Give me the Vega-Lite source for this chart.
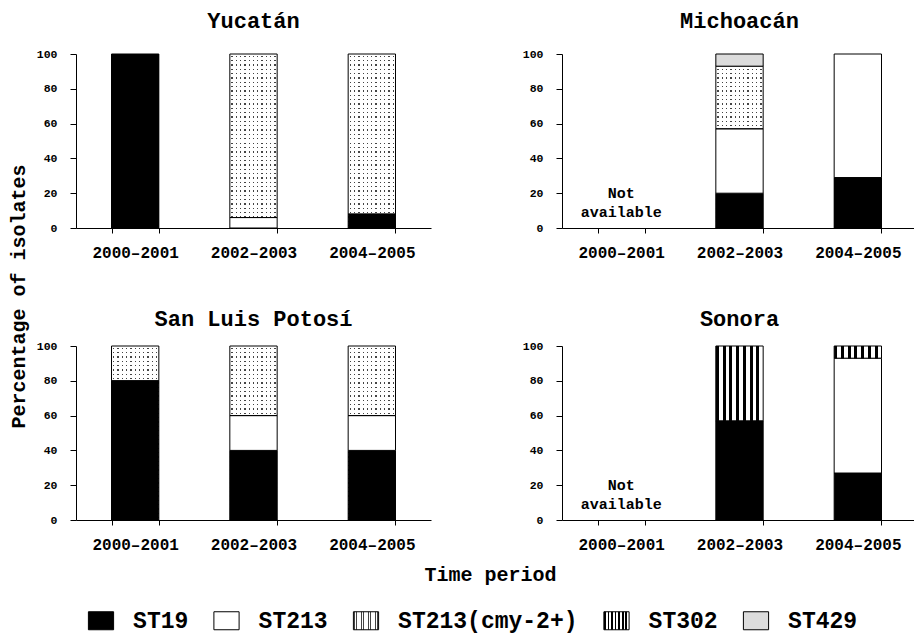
{
  "$schema": "https://vega.github.io/schema/vega-lite/v6.json",
  "background": "white",
  "padding": {"left": 8, "top": 10, "right": 5, "bottom": 5},
  "params": [
    {"name": "stip", "expr": "{gradient:'linear',x1:0,y1:0,x2:1,y2:0,stops:[{offset:0.0318,color:'#fff'},{offset:0.0318,color:'#444'},{offset:0.0591,color:'#444'},{offset:0.0591,color:'#fff'},{offset:0.1227,color:'#fff'},{offset:0.1227,color:'#444'},{offset:0.15,color:'#444'},{offset:0.15,color:'#fff'},{offset:0.2136,color:'#fff'},{offset:0.2136,color:'#444'},{offset:0.2409,color:'#444'},{offset:0.2409,color:'#fff'},{offset:0.3045,color:'#fff'},{offset:0.3045,color:'#444'},{offset:0.3318,color:'#444'},{offset:0.3318,color:'#fff'},{offset:0.3955,color:'#fff'},{offset:0.3955,color:'#444'},{offset:0.4227,color:'#444'},{offset:0.4227,color:'#fff'},{offset:0.4864,color:'#fff'},{offset:0.4864,color:'#444'},{offset:0.5136,color:'#444'},{offset:0.5136,color:'#fff'},{offset:0.5773,color:'#fff'},{offset:0.5773,color:'#444'},{offset:0.6045,color:'#444'},{offset:0.6045,color:'#fff'},{offset:0.6682,color:'#fff'},{offset:0.6682,color:'#444'},{offset:0.6955,color:'#444'},{offset:0.6955,color:'#fff'},{offset:0.7591,color:'#fff'},{offset:0.7591,color:'#444'},{offset:0.7864,color:'#444'},{offset:0.7864,color:'#fff'},{offset:0.85,color:'#fff'},{offset:0.85,color:'#444'},{offset:0.8773,color:'#444'},{offset:0.8773,color:'#fff'},{offset:0.9409,color:'#fff'},{offset:0.9409,color:'#444'},{offset:0.9682,color:'#444'},{offset:0.9682,color:'#fff'}]}"},
    {"name": "stipL", "expr": "{gradient:'linear',x1:0,y1:0,x2:1,y2:0,stops:[{offset:0.05,color:'#fff'},{offset:0.05,color:'#aaa'},{offset:0.0929,color:'#aaa'},{offset:0.0929,color:'#fff'},{offset:0.1929,color:'#fff'},{offset:0.1929,color:'#aaa'},{offset:0.2357,color:'#aaa'},{offset:0.2357,color:'#fff'},{offset:0.3357,color:'#fff'},{offset:0.3357,color:'#aaa'},{offset:0.3786,color:'#aaa'},{offset:0.3786,color:'#fff'},{offset:0.4786,color:'#fff'},{offset:0.4786,color:'#aaa'},{offset:0.5214,color:'#aaa'},{offset:0.5214,color:'#fff'},{offset:0.6214,color:'#fff'},{offset:0.6214,color:'#aaa'},{offset:0.6643,color:'#aaa'},{offset:0.6643,color:'#fff'},{offset:0.7643,color:'#fff'},{offset:0.7643,color:'#aaa'},{offset:0.8071,color:'#aaa'},{offset:0.8071,color:'#fff'},{offset:0.9071,color:'#fff'},{offset:0.9071,color:'#aaa'},{offset:0.95,color:'#aaa'},{offset:0.95,color:'#fff'}]}"},
    {"name": "stripes", "expr": "{gradient:'linear',x1:0,y1:0,x2:1,y2:0,stops:[{offset:0,color:'#000'},{offset:0.0643,color:'#000'},{offset:0.0643,color:'#fff'},{offset:0.1429,color:'#fff'},{offset:0.1429,color:'#000'},{offset:0.2071,color:'#000'},{offset:0.2071,color:'#fff'},{offset:0.2857,color:'#fff'},{offset:0.2857,color:'#000'},{offset:0.35,color:'#000'},{offset:0.35,color:'#fff'},{offset:0.4286,color:'#fff'},{offset:0.4286,color:'#000'},{offset:0.4929,color:'#000'},{offset:0.4929,color:'#fff'},{offset:0.5714,color:'#fff'},{offset:0.5714,color:'#000'},{offset:0.6357,color:'#000'},{offset:0.6357,color:'#fff'},{offset:0.7143,color:'#fff'},{offset:0.7143,color:'#000'},{offset:0.7786,color:'#000'},{offset:0.7786,color:'#fff'},{offset:0.8571,color:'#fff'},{offset:0.8571,color:'#000'},{offset:0.9214,color:'#000'},{offset:0.9214,color:'#fff'},{offset:1,color:'#fff'}]}"},
    {"name": "hstr", "expr": "{gradient:'linear',x1:1,y1:0,x2:1,y2:1,stops:[{offset:0.00875,color:'#fff'},{offset:0.00875,color:'rgba(255,255,255,0)'},{offset:0.01625,color:'rgba(255,255,255,0)'},{offset:0.01625,color:'#fff'},{offset:0.03375,color:'#fff'},{offset:0.03375,color:'rgba(255,255,255,0)'},{offset:0.04125,color:'rgba(255,255,255,0)'},{offset:0.04125,color:'#fff'},{offset:0.05875,color:'#fff'},{offset:0.05875,color:'rgba(255,255,255,0)'},{offset:0.06625,color:'rgba(255,255,255,0)'},{offset:0.06625,color:'#fff'},{offset:0.08375,color:'#fff'},{offset:0.08375,color:'rgba(255,255,255,0)'},{offset:0.09125,color:'rgba(255,255,255,0)'},{offset:0.09125,color:'#fff'},{offset:0.10875,color:'#fff'},{offset:0.10875,color:'rgba(255,255,255,0)'},{offset:0.11625,color:'rgba(255,255,255,0)'},{offset:0.11625,color:'#fff'},{offset:0.13375,color:'#fff'},{offset:0.13375,color:'rgba(255,255,255,0)'},{offset:0.14125,color:'rgba(255,255,255,0)'},{offset:0.14125,color:'#fff'},{offset:0.15875,color:'#fff'},{offset:0.15875,color:'rgba(255,255,255,0)'},{offset:0.16625,color:'rgba(255,255,255,0)'},{offset:0.16625,color:'#fff'},{offset:0.18375,color:'#fff'},{offset:0.18375,color:'rgba(255,255,255,0)'},{offset:0.19125,color:'rgba(255,255,255,0)'},{offset:0.19125,color:'#fff'},{offset:0.20875,color:'#fff'},{offset:0.20875,color:'rgba(255,255,255,0)'},{offset:0.21625,color:'rgba(255,255,255,0)'},{offset:0.21625,color:'#fff'},{offset:0.23375,color:'#fff'},{offset:0.23375,color:'rgba(255,255,255,0)'},{offset:0.24125,color:'rgba(255,255,255,0)'},{offset:0.24125,color:'#fff'},{offset:0.25875,color:'#fff'},{offset:0.25875,color:'rgba(255,255,255,0)'},{offset:0.26625,color:'rgba(255,255,255,0)'},{offset:0.26625,color:'#fff'},{offset:0.28375,color:'#fff'},{offset:0.28375,color:'rgba(255,255,255,0)'},{offset:0.29125,color:'rgba(255,255,255,0)'},{offset:0.29125,color:'#fff'},{offset:0.30875,color:'#fff'},{offset:0.30875,color:'rgba(255,255,255,0)'},{offset:0.31625,color:'rgba(255,255,255,0)'},{offset:0.31625,color:'#fff'},{offset:0.33375,color:'#fff'},{offset:0.33375,color:'rgba(255,255,255,0)'},{offset:0.34125,color:'rgba(255,255,255,0)'},{offset:0.34125,color:'#fff'},{offset:0.35875,color:'#fff'},{offset:0.35875,color:'rgba(255,255,255,0)'},{offset:0.36625,color:'rgba(255,255,255,0)'},{offset:0.36625,color:'#fff'},{offset:0.38375,color:'#fff'},{offset:0.38375,color:'rgba(255,255,255,0)'},{offset:0.39125,color:'rgba(255,255,255,0)'},{offset:0.39125,color:'#fff'},{offset:0.40875,color:'#fff'},{offset:0.40875,color:'rgba(255,255,255,0)'},{offset:0.41625,color:'rgba(255,255,255,0)'},{offset:0.41625,color:'#fff'},{offset:0.43375,color:'#fff'},{offset:0.43375,color:'rgba(255,255,255,0)'},{offset:0.44125,color:'rgba(255,255,255,0)'},{offset:0.44125,color:'#fff'},{offset:0.45875,color:'#fff'},{offset:0.45875,color:'rgba(255,255,255,0)'},{offset:0.46625,color:'rgba(255,255,255,0)'},{offset:0.46625,color:'#fff'},{offset:0.48375,color:'#fff'},{offset:0.48375,color:'rgba(255,255,255,0)'},{offset:0.49125,color:'rgba(255,255,255,0)'},{offset:0.49125,color:'#fff'},{offset:0.50875,color:'#fff'},{offset:0.50875,color:'rgba(255,255,255,0)'},{offset:0.51625,color:'rgba(255,255,255,0)'},{offset:0.51625,color:'#fff'},{offset:0.53375,color:'#fff'},{offset:0.53375,color:'rgba(255,255,255,0)'},{offset:0.54125,color:'rgba(255,255,255,0)'},{offset:0.54125,color:'#fff'},{offset:0.55875,color:'#fff'},{offset:0.55875,color:'rgba(255,255,255,0)'},{offset:0.56625,color:'rgba(255,255,255,0)'},{offset:0.56625,color:'#fff'},{offset:0.58375,color:'#fff'},{offset:0.58375,color:'rgba(255,255,255,0)'},{offset:0.59125,color:'rgba(255,255,255,0)'},{offset:0.59125,color:'#fff'},{offset:0.60875,color:'#fff'},{offset:0.60875,color:'rgba(255,255,255,0)'},{offset:0.61625,color:'rgba(255,255,255,0)'},{offset:0.61625,color:'#fff'},{offset:0.63375,color:'#fff'},{offset:0.63375,color:'rgba(255,255,255,0)'},{offset:0.64125,color:'rgba(255,255,255,0)'},{offset:0.64125,color:'#fff'},{offset:0.65875,color:'#fff'},{offset:0.65875,color:'rgba(255,255,255,0)'},{offset:0.66625,color:'rgba(255,255,255,0)'},{offset:0.66625,color:'#fff'},{offset:0.68375,color:'#fff'},{offset:0.68375,color:'rgba(255,255,255,0)'},{offset:0.69125,color:'rgba(255,255,255,0)'},{offset:0.69125,color:'#fff'},{offset:0.70875,color:'#fff'},{offset:0.70875,color:'rgba(255,255,255,0)'},{offset:0.71625,color:'rgba(255,255,255,0)'},{offset:0.71625,color:'#fff'},{offset:0.73375,color:'#fff'},{offset:0.73375,color:'rgba(255,255,255,0)'},{offset:0.74125,color:'rgba(255,255,255,0)'},{offset:0.74125,color:'#fff'},{offset:0.75875,color:'#fff'},{offset:0.75875,color:'rgba(255,255,255,0)'},{offset:0.76625,color:'rgba(255,255,255,0)'},{offset:0.76625,color:'#fff'},{offset:0.78375,color:'#fff'},{offset:0.78375,color:'rgba(255,255,255,0)'},{offset:0.79125,color:'rgba(255,255,255,0)'},{offset:0.79125,color:'#fff'},{offset:0.80875,color:'#fff'},{offset:0.80875,color:'rgba(255,255,255,0)'},{offset:0.81625,color:'rgba(255,255,255,0)'},{offset:0.81625,color:'#fff'},{offset:0.83375,color:'#fff'},{offset:0.83375,color:'rgba(255,255,255,0)'},{offset:0.84125,color:'rgba(255,255,255,0)'},{offset:0.84125,color:'#fff'},{offset:0.85875,color:'#fff'},{offset:0.85875,color:'rgba(255,255,255,0)'},{offset:0.86625,color:'rgba(255,255,255,0)'},{offset:0.86625,color:'#fff'},{offset:0.88375,color:'#fff'},{offset:0.88375,color:'rgba(255,255,255,0)'},{offset:0.89125,color:'rgba(255,255,255,0)'},{offset:0.89125,color:'#fff'},{offset:0.90875,color:'#fff'},{offset:0.90875,color:'rgba(255,255,255,0)'},{offset:0.91625,color:'rgba(255,255,255,0)'},{offset:0.91625,color:'#fff'},{offset:0.93375,color:'#fff'},{offset:0.93375,color:'rgba(255,255,255,0)'},{offset:0.94125,color:'rgba(255,255,255,0)'},{offset:0.94125,color:'#fff'},{offset:0.95875,color:'#fff'},{offset:0.95875,color:'rgba(255,255,255,0)'},{offset:0.96625,color:'rgba(255,255,255,0)'},{offset:0.96625,color:'#fff'},{offset:0.98375,color:'#fff'},{offset:0.98375,color:'rgba(255,255,255,0)'},{offset:0.99125,color:'rgba(255,255,255,0)'},{offset:0.99125,color:'#fff'}]}"}
  ],
  "datasets": {
    "shares": [
      {"state": "Yucatán", "period": "2000–2001", "type": "ST19", "v": 100},
      {"state": "Yucatán", "period": "2002–2003", "type": "ST213", "v": 6},
      {"state": "Yucatán", "period": "2002–2003", "type": "ST213(cmy-2+)", "v": 94},
      {"state": "Yucatán", "period": "2004–2005", "type": "ST19", "v": 8},
      {"state": "Yucatán", "period": "2004–2005", "type": "ST213(cmy-2+)", "v": 92},
      {"state": "Michoacán", "period": "2002–2003", "type": "ST19", "v": 20},
      {"state": "Michoacán", "period": "2002–2003", "type": "ST213", "v": 37},
      {"state": "Michoacán", "period": "2002–2003", "type": "ST213(cmy-2+)", "v": 36},
      {"state": "Michoacán", "period": "2002–2003", "type": "ST429", "v": 7},
      {"state": "Michoacán", "period": "2004–2005", "type": "ST19", "v": 29},
      {"state": "Michoacán", "period": "2004–2005", "type": "ST213", "v": 71},
      {"state": "San Luis Potosí", "period": "2000–2001", "type": "ST19", "v": 80},
      {"state": "San Luis Potosí", "period": "2000–2001", "type": "ST213(cmy-2+)", "v": 20},
      {"state": "San Luis Potosí", "period": "2002–2003", "type": "ST19", "v": 40},
      {"state": "San Luis Potosí", "period": "2002–2003", "type": "ST213", "v": 20},
      {"state": "San Luis Potosí", "period": "2002–2003", "type": "ST213(cmy-2+)", "v": 40},
      {"state": "San Luis Potosí", "period": "2004–2005", "type": "ST19", "v": 40},
      {"state": "San Luis Potosí", "period": "2004–2005", "type": "ST213", "v": 20},
      {"state": "San Luis Potosí", "period": "2004–2005", "type": "ST213(cmy-2+)", "v": 40},
      {"state": "Sonora", "period": "2002–2003", "type": "ST19", "v": 57},
      {"state": "Sonora", "period": "2002–2003", "type": "ST302", "v": 43},
      {"state": "Sonora", "period": "2004–2005", "type": "ST19", "v": 27},
      {"state": "Sonora", "period": "2004–2005", "type": "ST213", "v": 66},
      {"state": "Sonora", "period": "2004–2005", "type": "ST302", "v": 7}
    ],
    "notes": [
      {"state": "Michoacán", "period": "2000–2001", "note": "Not available"},
      {"state": "Sonora", "period": "2000–2001", "note": "Not available"}
    ]
  },
  "columns": 2,
  "spacing": {"row": 118, "column": 131},
  "bounds": "flush",
  "concat": [
    {
      "title": {"text": "Yucatán", "offset": 15},
      "width": 355, "height": 174,
      "encoding": {
        "x": {"field": "period", "type": "nominal", "scale": {"domain": ["2000–2001", "2002–2003", "2004–2005"], "paddingInner": 0.6, "paddingOuter": 0.3}, "axis": {"title": null, "tickBand": "extent", "labelAngle": 0}}
      },
      "layer": [
        {"data": {"name": "shares"}, "transform": [{"filter": "datum.state === 'Yucatán'"}],
         "mark": {"type": "bar"},
         "encoding": {
           "y": {"field": "v", "type": "quantitative", "stack": "zero", "scale": {"domain": [0, 100], "nice": false}, "title": "Percentage of isolates", "axis": {"values": [0, 20, 40, 60, 80, 100], "titleX": -51.5, "titleY": 242, "titleBaseline": "alphabetic", "titleAngle": 270, "titleAlign": "center"}},
           "order": {"field": "type", "type": "ordinal"},
           "fill": {"field": "type", "type": "nominal", "title": null, "scale": {"domain": ["ST19", "ST213", "ST213(cmy-2+)", "ST302", "ST429"], "range": ["#000000", "#ffffff", {"expr": "stip"}, {"expr": "stripes"}, "#dcdcdc"]}, "legend": {"orient": "none", "legendX": 13.5, "legendY": 555, "direction": "horizontal", "columns": 5, "labelFont": "Liberation Mono", "labelFontWeight": "bold", "labelFontSize": 23, "encode": {"symbols": {"update": {"fill": [{"test": "datum.value === 'ST213(cmy-2+)'", "signal": "stipL"}, {"scale": "fill", "field": "value"}], "stroke": {"value": "#000"}, "strokeWidth": {"value": 1}, "opacity": {"value": 1}}}}}}
         }},
        {"data": {"name": "shares"}, "transform": [{"filter": "datum.state === 'Yucatán' && datum.type === 'ST213(cmy-2+)'"}],
         "mark": {"type": "bar", "fill": {"expr": "hstr"}},
         "encoding": {
           "y": {"datum": 0, "type": "quantitative", "title": "Percentage of isolates", "axis": {"values": [0, 20, 40, 60, 80, 100], "titleX": -51.5, "titleY": 242, "titleBaseline": "alphabetic", "titleAngle": 270, "titleAlign": "center"}},
           "y2": {"datum": 100}
         }},
        {"data": {"name": "shares"}, "transform": [{"filter": "datum.state === 'Yucatán'"}],
         "mark": {"type": "bar", "stroke": "#000", "strokeWidth": 1},
         "encoding": {
           "y": {"field": "v", "type": "quantitative", "stack": "zero", "scale": {"domain": [0, 100], "nice": false}, "title": "Percentage of isolates", "axis": {"values": [0, 20, 40, 60, 80, 100], "titleX": -51.5, "titleY": 242, "titleBaseline": "alphabetic", "titleAngle": 270, "titleAlign": "center"}},
           "order": {"field": "type", "type": "ordinal"},
           "fill": {"field": "type", "type": "nominal", "title": null, "scale": {"domain": ["ST19", "ST213", "ST213(cmy-2+)", "ST302", "ST429"], "range": ["#000000", "#ffffff", {"expr": "stip"}, {"expr": "stripes"}, "#dcdcdc"]}, "legend": {"orient": "none", "legendX": 13.5, "legendY": 555, "direction": "horizontal", "columns": 5, "labelFont": "Liberation Mono", "labelFontWeight": "bold", "labelFontSize": 23, "encode": {"symbols": {"update": {"fill": [{"test": "datum.value === 'ST213(cmy-2+)'", "signal": "stipL"}, {"scale": "fill", "field": "value"}], "stroke": {"value": "#000"}, "strokeWidth": {"value": 1}, "opacity": {"value": 1}}}}}},
           "fillOpacity": {"condition": {"test": "datum.type === 'ST213(cmy-2+)'", "value": 0}, "value": 1}
         }}
      ]
    },
    {
      "title": {"text": "Michoacán", "offset": 15},
      "width": 355, "height": 174,
      "encoding": {
        "x": {"field": "period", "type": "nominal", "scale": {"domain": ["2000–2001", "2002–2003", "2004–2005"], "paddingInner": 0.6, "paddingOuter": 0.3}, "axis": {"title": null, "tickBand": "extent", "labelAngle": 0}}
      },
      "layer": [
        {"data": {"name": "shares"}, "transform": [{"filter": "datum.state === 'Michoacán'"}],
         "mark": {"type": "bar"},
         "encoding": {
           "y": {"field": "v", "type": "quantitative", "stack": "zero", "scale": {"domain": [0, 100], "nice": false}, "title": null, "axis": {"values": [0, 20, 40, 60, 80, 100]}},
           "order": {"field": "type", "type": "ordinal"},
           "fill": {"field": "type", "type": "nominal", "title": null, "scale": {"domain": ["ST19", "ST213", "ST213(cmy-2+)", "ST302", "ST429"], "range": ["#000000", "#ffffff", {"expr": "stip"}, {"expr": "stripes"}, "#dcdcdc"]}, "legend": {"orient": "none", "legendX": 13.5, "legendY": 555, "direction": "horizontal", "columns": 5, "labelFont": "Liberation Mono", "labelFontWeight": "bold", "labelFontSize": 23, "encode": {"symbols": {"update": {"fill": [{"test": "datum.value === 'ST213(cmy-2+)'", "signal": "stipL"}, {"scale": "fill", "field": "value"}], "stroke": {"value": "#000"}, "strokeWidth": {"value": 1}, "opacity": {"value": 1}}}}}}
         }},
        {"data": {"name": "shares"}, "transform": [{"filter": "datum.state === 'Michoacán' && datum.type === 'ST213(cmy-2+)'"}],
         "mark": {"type": "bar", "fill": {"expr": "hstr"}},
         "encoding": {"y": {"datum": 0, "type": "quantitative", "title": null, "axis": {"values": [0, 20, 40, 60, 80, 100]}}, "y2": {"datum": 100}}},
        {"data": {"name": "shares"}, "transform": [{"filter": "datum.state === 'Michoacán'"}],
         "mark": {"type": "bar", "stroke": "#000", "strokeWidth": 1},
         "encoding": {
           "y": {"field": "v", "type": "quantitative", "stack": "zero", "scale": {"domain": [0, 100], "nice": false}, "title": null, "axis": {"values": [0, 20, 40, 60, 80, 100]}},
           "order": {"field": "type", "type": "ordinal"},
           "fill": {"field": "type", "type": "nominal", "title": null, "scale": {"domain": ["ST19", "ST213", "ST213(cmy-2+)", "ST302", "ST429"], "range": ["#000000", "#ffffff", {"expr": "stip"}, {"expr": "stripes"}, "#dcdcdc"]}, "legend": {"orient": "none", "legendX": 13.5, "legendY": 555, "direction": "horizontal", "columns": 5, "labelFont": "Liberation Mono", "labelFontWeight": "bold", "labelFontSize": 23, "encode": {"symbols": {"update": {"fill": [{"test": "datum.value === 'ST213(cmy-2+)'", "signal": "stipL"}, {"scale": "fill", "field": "value"}], "stroke": {"value": "#000"}, "strokeWidth": {"value": 1}, "opacity": {"value": 1}}}}}},
           "fillOpacity": {"condition": {"test": "datum.type === 'ST213(cmy-2+)'", "value": 0}, "value": 1}
         }},
        {"data": {"name": "notes"}, "transform": [{"filter": "datum.state === 'Michoacán'"}],
         "mark": {"type": "text", "lineBreak": " ", "font": "Liberation Mono", "fontSize": 15, "fontWeight": "bold", "lineHeight": 19, "baseline": "middle", "align": "center", "fill": "#000"},
         "encoding": {"text": {"field": "note"}, "y": {"datum": 20, "type": "quantitative", "title": null, "axis": {"values": [0, 20, 40, 60, 80, 100]}}}}
      ]
    },
    {
      "title": {"text": "San Luis Potosí", "offset": 9},
      "width": 355, "height": 174,
      "encoding": {
        "x": {"field": "period", "type": "nominal", "scale": {"domain": ["2000–2001", "2002–2003", "2004–2005"], "paddingInner": 0.6, "paddingOuter": 0.3}, "title": "Time period", "axis": {"titleX": 414, "titleY": 60, "titleBaseline": "alphabetic", "tickBand": "extent", "labelAngle": 0}}
      },
      "layer": [
        {"data": {"name": "shares"}, "transform": [{"filter": "datum.state === 'San Luis Potosí'"}],
         "mark": {"type": "bar"},
         "encoding": {
           "y": {"field": "v", "type": "quantitative", "stack": "zero", "scale": {"domain": [0, 100], "nice": false}, "title": null, "axis": {"values": [0, 20, 40, 60, 80, 100]}},
           "order": {"field": "type", "type": "ordinal"},
           "fill": {"field": "type", "type": "nominal", "title": null, "scale": {"domain": ["ST19", "ST213", "ST213(cmy-2+)", "ST302", "ST429"], "range": ["#000000", "#ffffff", {"expr": "stip"}, {"expr": "stripes"}, "#dcdcdc"]}, "legend": {"orient": "none", "legendX": 13.5, "legendY": 555, "direction": "horizontal", "columns": 5, "labelFont": "Liberation Mono", "labelFontWeight": "bold", "labelFontSize": 23, "encode": {"symbols": {"update": {"fill": [{"test": "datum.value === 'ST213(cmy-2+)'", "signal": "stipL"}, {"scale": "fill", "field": "value"}], "stroke": {"value": "#000"}, "strokeWidth": {"value": 1}, "opacity": {"value": 1}}}}}}
         }},
        {"data": {"name": "shares"}, "transform": [{"filter": "datum.state === 'San Luis Potosí' && datum.type === 'ST213(cmy-2+)'"}],
         "mark": {"type": "bar", "fill": {"expr": "hstr"}},
         "encoding": {"y": {"datum": 0, "type": "quantitative", "title": null, "axis": {"values": [0, 20, 40, 60, 80, 100]}}, "y2": {"datum": 100}}},
        {"data": {"name": "shares"}, "transform": [{"filter": "datum.state === 'San Luis Potosí'"}],
         "mark": {"type": "bar", "stroke": "#000", "strokeWidth": 1},
         "encoding": {
           "y": {"field": "v", "type": "quantitative", "stack": "zero", "scale": {"domain": [0, 100], "nice": false}, "title": null, "axis": {"values": [0, 20, 40, 60, 80, 100]}},
           "order": {"field": "type", "type": "ordinal"},
           "fill": {"field": "type", "type": "nominal", "title": null, "scale": {"domain": ["ST19", "ST213", "ST213(cmy-2+)", "ST302", "ST429"], "range": ["#000000", "#ffffff", {"expr": "stip"}, {"expr": "stripes"}, "#dcdcdc"]}, "legend": {"orient": "none", "legendX": 13.5, "legendY": 555, "direction": "horizontal", "columns": 5, "labelFont": "Liberation Mono", "labelFontWeight": "bold", "labelFontSize": 23, "encode": {"symbols": {"update": {"fill": [{"test": "datum.value === 'ST213(cmy-2+)'", "signal": "stipL"}, {"scale": "fill", "field": "value"}], "stroke": {"value": "#000"}, "strokeWidth": {"value": 1}, "opacity": {"value": 1}}}}}},
           "fillOpacity": {"condition": {"test": "datum.type === 'ST213(cmy-2+)'", "value": 0}, "value": 1}
         }}
      ]
    },
    {
      "title": {"text": "Sonora", "offset": 9},
      "width": 355, "height": 174,
      "encoding": {
        "x": {"field": "period", "type": "nominal", "scale": {"domain": ["2000–2001", "2002–2003", "2004–2005"], "paddingInner": 0.6, "paddingOuter": 0.3}, "axis": {"title": null, "tickBand": "extent", "labelAngle": 0}}
      },
      "layer": [
        {"data": {"name": "shares"}, "transform": [{"filter": "datum.state === 'Sonora'"}],
         "mark": {"type": "bar", "stroke": "#000", "strokeWidth": 1},
         "encoding": {
           "y": {"field": "v", "type": "quantitative", "stack": "zero", "scale": {"domain": [0, 100], "nice": false}, "title": null, "axis": {"values": [0, 20, 40, 60, 80, 100]}},
           "order": {"field": "type", "type": "ordinal"},
           "fill": {"field": "type", "type": "nominal", "title": null, "scale": {"domain": ["ST19", "ST213", "ST213(cmy-2+)", "ST302", "ST429"], "range": ["#000000", "#ffffff", {"expr": "stip"}, {"expr": "stripes"}, "#dcdcdc"]}, "legend": {"orient": "none", "legendX": 13.5, "legendY": 555, "direction": "horizontal", "columns": 5, "labelFont": "Liberation Mono", "labelFontWeight": "bold", "labelFontSize": 23, "encode": {"symbols": {"update": {"fill": [{"test": "datum.value === 'ST213(cmy-2+)'", "signal": "stipL"}, {"scale": "fill", "field": "value"}], "stroke": {"value": "#000"}, "strokeWidth": {"value": 1}, "opacity": {"value": 1}}}}}}
         }},
        {"data": {"name": "notes"}, "transform": [{"filter": "datum.state === 'Sonora'"}],
         "mark": {"type": "text", "lineBreak": " ", "font": "Liberation Mono", "fontSize": 15, "fontWeight": "bold", "lineHeight": 19, "baseline": "middle", "align": "center", "fill": "#000"},
         "encoding": {"text": {"field": "note"}, "y": {"datum": 20, "type": "quantitative", "title": null, "axis": {"values": [0, 20, 40, 60, 80, 100]}}}}
      ]
    }
  ],
  "config": {
    "view": {"stroke": null},
    "font": "Liberation Mono",
    "axis": {"labelFont": "Liberation Mono", "labelFontWeight": "bold", "labelColor": "#000", "domainColor": "#000", "tickColor": "#000", "grid": false, "titleFont": "Liberation Mono", "titleFontWeight": "bold", "titleColor": "#000", "titleFontSize": 20, "domainWidth": 1, "tickWidth": 1},
    "axisX": {"labelFontSize": 16, "labelAngle": 0, "tickSize": 5, "labelPadding": 11},
    "axisY": {"labelFontSize": 11.5, "tickSize": 6, "labelPadding": 13},
    "title": {"font": "Liberation Mono", "fontSize": 22, "fontWeight": "bold", "color": "#000", "anchor": "middle", "frame": "group", "baseline": "alphabetic"},
    "legend": {"orient": "none", "direction": "horizontal", "columns": 5, "symbolType": "M-1.4,-1H1.4V1H-1.4Z", "symbolSize": 324, "symbolStrokeColor": "#000", "symbolStrokeWidth": 1, "labelFont": "Liberation Mono", "labelFontWeight": "bold", "labelFontSize": 23, "labelColor": "#000", "labelOffset": 20.6, "columnPadding": 22.5, "padding": 0, "labelLimit": 400}
  }
}
